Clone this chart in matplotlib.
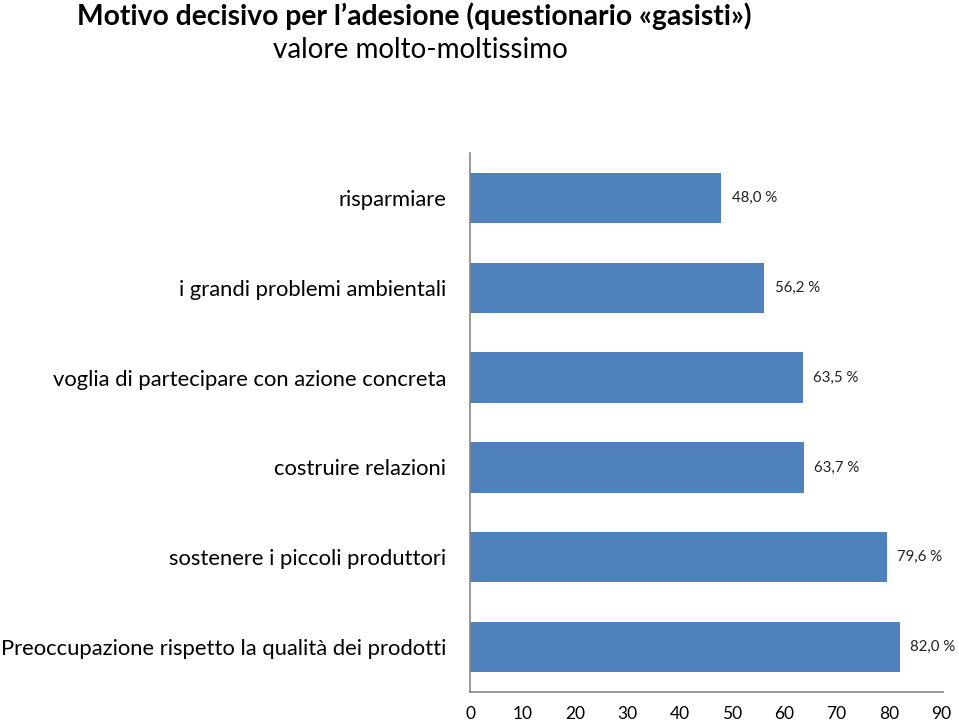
import matplotlib.pyplot as plt
import numpy as np

categories = [
    "risparmiare",
    "i grandi problemi ambientali",
    "voglia di partecipare con azione concreta",
    "costruire relazioni",
    "sostenere i piccoli produttori",
    "Preoccupazione rispetto la qualità dei prodotti",
]
values = [48.0, 56.2, 63.5, 63.7, 79.6, 82.0]
xticks = [0, 10, 20, 30, 40, 50, 60, 70, 80, 90]

plt.rcParams["font.family"] = ["Lato", "DejaVu Sans"]

fig = plt.figure(figsize=(9.59, 7.22), dpi=100)
ax = fig.add_axes([470 / 959, 1 - 692 / 722, 473 / 959, 539 / 722])

# top category drawn at the top
ypos = np.arange(len(categories))[::-1]
ax.barh(ypos, values, height=0.56, color="#4F81BD")

for y, v in zip(ypos, values):
    ax.text(v + 2, y, f"{v:.1f} %".replace(".", ","), va="center", ha="left",
            fontsize=10.8, color="#222222")

ax.set_yticks(ypos)
ax.set_yticklabels(categories, fontsize=15.8)
ax.set_xticks(xticks)
ax.set_xticklabels([str(t) for t in xticks], fontsize=12.5)
ax.set_xlim(0, 90.3)
ax.set_ylim(-0.5, 5.5)
ax.tick_params(axis="both", length=0)
ax.tick_params(axis="y", pad=17)
ax.tick_params(axis="x", pad=10)
for s in ["top", "right"]:
    ax.spines[s].set_visible(False)
for s in ["left", "bottom"]:
    ax.spines[s].set_color("#868686")
    ax.spines[s].set_linewidth(1.2)

fig.text(414 / 959, 1 - 16 / 722, "Motivo decisivo per l\u2019adesione (questionario \u00abgasisti\u00bb)",
         ha="center", va="center", fontsize=20.3, fontweight="bold")
fig.text(420 / 959, 1 - 50 / 722, "valore molto-moltissimo", ha="center", va="center",
         fontsize=20)

fig.savefig("out.png", dpi=100)
